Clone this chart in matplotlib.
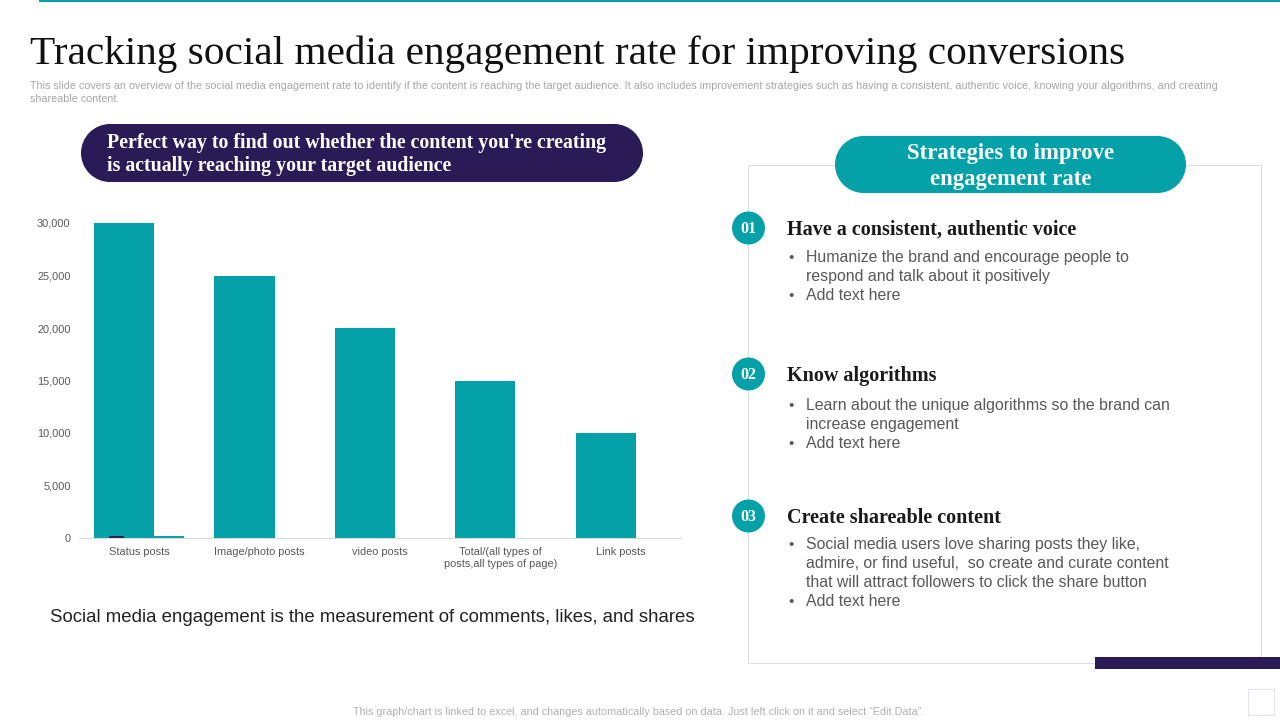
import matplotlib
matplotlib.use('Agg')
import matplotlib.pyplot as plt
import numpy as np
from matplotlib.patches import Rectangle, Circle

TEAL = '#04A1A8'
NAVY = '#2A1B57'

categories = ['Status posts', 'Image/photo posts', 'video posts',
              'Total/(all types of\nposts,all types of page)', 'Link posts']
main_values = [30000, 25000, 20000, 15000, 10000]
small_dark_values = [150, 0, 0, 0, 0]
small_teal_values = [200, 0, 0, 0, 0]
y_ticks = [0, 5000, 10000, 15000, 20000, 25000, 30000]

title = 'Tracking social media engagement rate for improving conversions'
subtitle = ("This slide covers an overview of the social media engagement rate to identify if the content is "
            "reaching the target audience. It also includes improvement strategies such as having a consistent, "
            "authentic voice, knowing your algorithms, and creating\nshareable content.")
footer = 'This graph/chart is linked to excel, and changes automatically based on data. Just left click on it and select \u201cEdit Data\u201d.'

headings = ['Have a consistent, authentic voice', 'Know algorithms', 'Create shareable content']
numbers = ['01', '02', '03']
heading_y = [228, 374, 516]
bullet_lines = [
    [(262, True, 'Humanize the brand and encourage people to'),
     (281, False, 'respond and talk about it positively'),
     (300, True, 'Add text here')],
    [(410, True, 'Learn about the unique algorithms so the brand can'),
     (429, False, 'increase engagement'),
     (448, True, 'Add text here')],
    [(549, True, 'Social media users love sharing posts they like,'),
     (568, False, 'admire, or find useful,  so create and curate content'),
     (587, False, 'that will attract followers to click the share button'),
     (606, True, 'Add text here')],
]

plt.rcParams['font.family'] = ['Liberation Sans', 'DejaVu Sans']


def pill(ax, left, top, width, height, color):
    r = height / 2
    ax.add_patch(Rectangle((left + r, top), width - height, height, fc=color, ec='none'))
    ax.add_patch(Circle((left + r, top + r), r, fc=color, ec='none'))
    ax.add_patch(Circle((left + width - r, top + r), r, fc=color, ec='none'))


fig = plt.figure(figsize=(12.8, 7.2), dpi=100)

# page layer in pixel coordinates
bg = fig.add_axes([0, 0, 1, 1])
bg.set_xlim(0, 1280)
bg.set_ylim(720, 0)
bg.axis('off')

bg.add_patch(Rectangle((39, 0), 1241, 2, color=TEAL, lw=0))
bg.text(30, 54, title, family='Liberation Serif', fontsize=29.7, color='#111111', va='center')
bg.text(30, 92.5, subtitle, fontsize=7.75, color='#A6A6A6', va='center', linespacing=1.45)

# left pill
pill(bg, 81, 124, 562, 58, NAVY)
bg.text(107, 143, "Perfect way to find out whether the content you're creating",
        family='Liberation Serif', fontsize=14.3, fontweight='bold', color='white', va='center')
bg.text(107, 166, 'is actually reaching your target audience',
        family='Liberation Serif', fontsize=14.3, fontweight='bold', color='white', va='center')

bg.text(372, 618, 'Social media engagement is the measurement of comments, likes, and shares',
        fontsize=13.45, color='#222222', ha='center', va='center')

# right panel
bg.add_patch(Rectangle((748, 165), 512.5, 497.5, fc='white', ec='#DCDCE4', lw=0.8))
pill(bg, 835, 136, 351, 57, TEAL)
bg.text(1011, 154, 'Strategies to improve', family='Liberation Serif', fontsize=16.4,
        fontweight='bold', color='white', ha='center', va='center')
bg.text(1011, 179.5, 'engagement rate', family='Liberation Serif', fontsize=16.4,
        fontweight='bold', color='white', ha='center', va='center')

for num, head, y, lines in zip(numbers, headings, heading_y, bullet_lines):
    bg.add_patch(Circle((748.5, y), 16.5, fc=TEAL, ec='none'))
    bg.text(748.5, y + 1, num, family='Liberation Serif', fontsize=11.5, fontweight='bold',
            color='white', ha='center', va='center')
    bg.text(787, y + 2, head, family='Liberation Serif', fontsize=14.5, fontweight='bold',
            color='#1A1A1A', va='center')
    for ly, has_bullet, txt in lines:
        if has_bullet:
            bg.text(788, ly, '\u2022', fontsize=11, color='#595959', va='baseline')
        bg.text(806, ly, txt, fontsize=11.45, color='#595959', va='baseline')

bg.add_patch(Rectangle((1095, 657), 185, 12, color=NAVY, lw=0))
bg.add_patch(Rectangle((1247.5, 688.5), 26, 26, fc='white', ec='#E4E2EC', lw=0.8))
bg.text(639, 712, footer, fontsize=7.75, color='#B0B0B0', ha='center', va='center')

# bar chart, axes box from 79 to 681 px wide and 223 to 538 px high
ax = fig.add_axes([79 / 1280, 1 - 538 / 720, 602 / 1280, 315 / 720])
x = np.arange(len(categories))
ax.bar(x - 0.125, main_values, width=0.5, color=TEAL)
ax.bar(x - 0.1875, small_dark_values, width=0.125, color=NAVY)
ax.bar(x + 0.25, small_teal_values, width=0.25, color=TEAL)
ax.set_xlim(-0.5, 4.5)
ax.set_ylim(0, 30000)
ax.set_yticks(y_ticks)
ax.set_yticklabels([f'{v:,}' for v in y_ticks], fontsize=7.9, color='#595959')
ax.set_xticks(x)
ax.set_xticklabels(categories, fontsize=7.9, color='#595959', linespacing=1.2)
ax.tick_params(axis='both', length=0)
ax.tick_params(axis='x', pad=6.5)
ax.tick_params(axis='y', pad=6)
for side in ['top', 'right', 'left']:
    ax.spines[side].set_visible(False)
ax.spines['bottom'].set_color('#D9D9D9')
ax.patch.set_alpha(0)

fig.savefig('out.png', dpi=100)
